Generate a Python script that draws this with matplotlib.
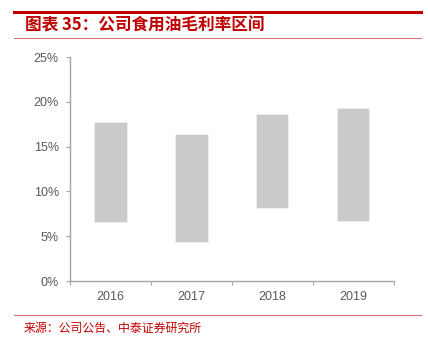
import matplotlib.pyplot as plt
from matplotlib.ticker import FuncFormatter, FixedLocator
from matplotlib.lines import Line2D

plt.rcParams['font.family'] = ['Noto Sans CJK SC', 'DejaVu Sans']

years = ['2016', '2017', '2018', '2019']
margin_high = [17.7, 16.4, 18.6, 19.3]   # %
margin_low = [6.6, 4.4, 8.2, 6.7]        # %

title = '图表 35：公司食用油毛利率区间'
source = '来源：公司公告、中泰证券研究所'

red = '#C00000'
line_red = '#E07070'
gray_axis = '#A6A6A6'
text_gray = '#595959'

fig = plt.figure(figsize=(4.28, 3.38), dpi=100)
ax = fig.add_axes([70 / 428, 57 / 338, 323.7 / 428, 224 / 338])

x = list(range(len(years)))
heights = [h - l for h, l in zip(margin_high, margin_low)]
ax.bar(x, heights, bottom=margin_low, width=0.4, color='#CACACA',
       edgecolor='#F0F0F0', linewidth=0.6)

ax.set_xlim(-0.5, len(years) - 0.5)
ax.set_ylim(0, 25)
ax.set_yticks([0, 5, 10, 15, 20, 25])
ax.yaxis.set_major_formatter(FuncFormatter(lambda v, p: f'{v:.0f}%'))
ax.set_xticks(x)
ax.set_xticklabels(years)
ax.xaxis.set_minor_locator(FixedLocator([i - 0.5 for i in range(len(years) + 1)]))

for lbl in ax.get_xticklabels() + ax.get_yticklabels():
    lbl.set_fontfamily('Liberation Sans')

for side in ['top', 'right']:
    ax.spines[side].set_visible(False)
for side in ['left', 'bottom']:
    ax.spines[side].set_color(gray_axis)
    ax.spines[side].set_linewidth(1.0)

ax.tick_params(axis='y', colors=gray_axis, labelcolor=text_gray, labelsize=9,
               length=3, width=0.8, pad=5)
ax.tick_params(axis='x', which='major', length=0, labelcolor=text_gray,
               labelsize=9, pad=7)
ax.tick_params(axis='x', which='minor', length=3, width=0.8, colors=gray_axis)

# header and footer rules
fig.add_artist(Line2D([14 / 428, 421 / 428], [1 - 11.5 / 338] * 2,
                      color='#C00000', linewidth=2.2))
fig.add_artist(Line2D([14 / 428, 421 / 428], [1 - 38 / 338] * 2,
                      color=line_red, linewidth=0.8))
fig.add_artist(Line2D([14 / 428, 421 / 428], [1 - 315 / 338] * 2,
                      color=line_red, linewidth=0.8))

fig.text(25 / 428, 1 - 25 / 338, title, color=red, fontsize=12,
         fontweight='bold', va='center', ha='left')
fig.text(24 / 428, 1 - 328 / 338, source, color=red, fontsize=8.6,
         va='center', ha='left')

fig.savefig('out.png', dpi=100)
